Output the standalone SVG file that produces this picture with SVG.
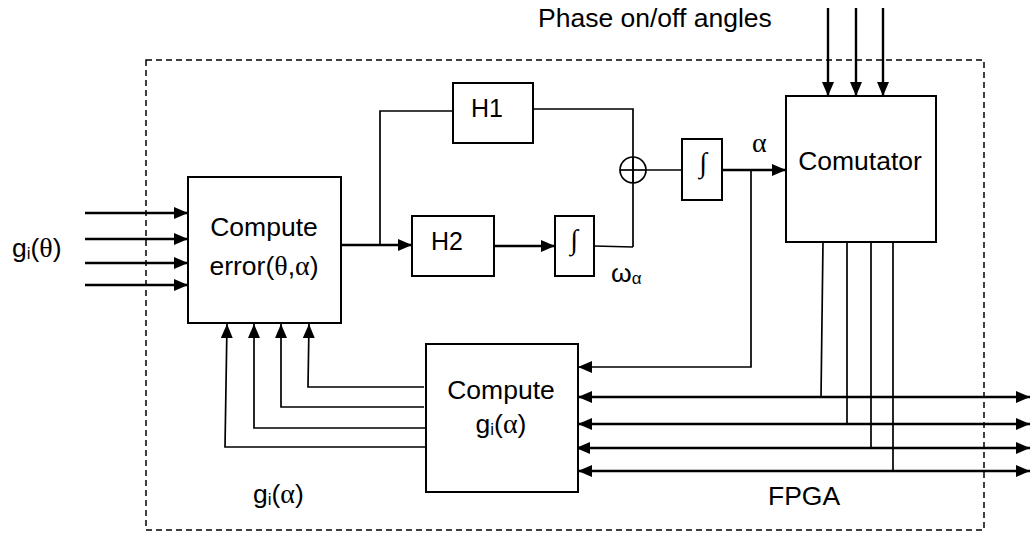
<svg xmlns="http://www.w3.org/2000/svg" width="1032" height="533" viewBox="0 0 1032 533">
<style>
.box{fill:#fff;stroke:#000;stroke-width:2}
.ln{fill:none;stroke:#000;stroke-width:2.4}
.lt{fill:none;stroke:#000;stroke-width:1.7}
.t{font-family:"Liberation Sans",Arial,sans-serif;font-size:26.5px;fill:#000}
.g{font-family:"Liberation Serif","Times New Roman",serif;font-size:28px}
.sub{font-size:17px}
.int{font-family:"Liberation Serif","DejaVu Serif",serif;font-size:28px;fill:#000}
</style>
<defs>
<marker id="ah" viewBox="0 0 14 12" refX="14" refY="6" markerWidth="14" markerHeight="12" markerUnits="userSpaceOnUse" orient="auto-start-reverse">
<path d="M0,0 L14,6 L0,12 Z" fill="#000"/>
</marker>
</defs>
<rect id="fpga" x="146" y="60" width="838" height="470" fill="none" stroke="#000" stroke-width="1.5" stroke-dasharray="6,4"/>
<g id="connectors">
<line class="ln" x1="85" y1="213" x2="188" y2="213" marker-end="url(#ah)"/>
<line class="ln" x1="85" y1="239" x2="188" y2="239" marker-end="url(#ah)"/>
<line class="ln" x1="85" y1="263" x2="188" y2="263" marker-end="url(#ah)"/>
<line class="ln" x1="85" y1="285" x2="188" y2="285" marker-end="url(#ah)"/>
<line class="ln" x1="341" y1="245" x2="412" y2="245" marker-end="url(#ah)"/>
<polyline class="lt" points="380,245 380,111 453,111"/>
<polyline class="lt" points="533,109 633,109 633,247"/>
<line class="lt" x1="594" y1="246" x2="633" y2="247"/>
<line class="ln" x1="494" y1="246" x2="555" y2="246" marker-end="url(#ah)"/>
<line class="lt" x1="646" y1="170" x2="682" y2="170"/>
<line class="ln" x1="722" y1="170" x2="786" y2="170" marker-end="url(#ah)"/>
<polyline class="lt" points="751,170 751,367 578,367" marker-end="url(#ah)"/>
<line class="ln" x1="828" y1="8" x2="828" y2="96" marker-end="url(#ah)"/>
<line class="ln" x1="856" y1="8" x2="856" y2="96" marker-end="url(#ah)"/>
<line class="ln" x1="883" y1="8" x2="883" y2="96" marker-end="url(#ah)"/>
<line class="lt" x1="823" y1="242" x2="821" y2="397"/>
<line class="lt" x1="847" y1="242" x2="847" y2="424"/>
<line class="lt" x1="871" y1="242" x2="871" y2="448"/>
<line class="lt" x1="893" y1="242" x2="893" y2="471"/>
<line class="ln" x1="578" y1="397" x2="1030" y2="397" marker-start="url(#ah)" marker-end="url(#ah)"/>
<line class="ln" x1="578" y1="424" x2="1030" y2="424" marker-start="url(#ah)" marker-end="url(#ah)"/>
<line class="ln" x1="576" y1="448" x2="1030" y2="448" marker-start="url(#ah)" marker-end="url(#ah)"/>
<line class="ln" x1="578" y1="471" x2="1030" y2="471" marker-start="url(#ah)" marker-end="url(#ah)"/>
<polyline class="lt" points="424,387 308,387 309,324" marker-end="url(#ah)"/>
<polyline class="lt" points="424,407 281,407 281,324" marker-end="url(#ah)"/>
<polyline class="lt" points="426,428 254,428 254,324" marker-end="url(#ah)"/>
<polyline class="lt" points="426,447 225,447 227,324" marker-end="url(#ah)"/>
</g>
<g id="sum">
<circle cx="633" cy="170" r="13" fill="none" stroke="#000" stroke-width="1.7"/>
<line class="lt" x1="620" y1="170" x2="646" y2="170"/>
<line class="lt" x1="633" y1="157" x2="633" y2="183"/>
</g>
<g id="compute-error">
<rect class="box" x="188" y="177" width="153" height="146"/>
<text class="t" x="264" y="236" text-anchor="middle">Compute</text>
<text class="t" x="264" y="275" text-anchor="middle">error(<tspan class="g">θ</tspan>,<tspan class="g">α</tspan>)</text>
</g>
<g id="h1">
<rect class="box" x="453" y="83" width="80" height="60"/>
<text class="t" x="487" y="117" text-anchor="middle" style="font-size:25px">H1</text>
</g>
<g id="h2">
<rect class="box" x="412" y="216" width="82" height="60"/>
<text class="t" x="447" y="250" text-anchor="middle" style="font-size:25px">H2</text>
</g>
<g id="int1">
<rect class="box" x="555" y="216" width="39" height="60"/>
<text class="int" x="574" y="249" text-anchor="middle">∫</text>
</g>
<g id="int2">
<rect class="box" x="682" y="139" width="40" height="61"/>
<text class="int" x="703" y="172" text-anchor="middle">∫</text>
</g>
<g id="comutator">
<rect class="box" x="786" y="96" width="150" height="146"/>
<text class="t" x="860" y="170" text-anchor="middle">Comutator</text>
</g>
<g id="compute-g">
<rect class="box" x="426" y="344" width="152" height="148"/>
<text class="t" x="501" y="399" text-anchor="middle">Compute</text>
<text class="t" x="501" y="433" text-anchor="middle">g<tspan class="sub" dy="2">i</tspan><tspan dy="-2">(</tspan><tspan class="g">α</tspan>)</text>
</g>
<g id="labels">
<text class="t" x="538" y="27">Phase on/off angles</text>
<text class="t" x="12" y="257">g<tspan class="sub" dy="2">i</tspan><tspan dy="-2">(</tspan><tspan class="g">θ</tspan>)</text>
<text class="t" x="253" y="503">g<tspan class="sub" dy="2">i</tspan><tspan dy="-2">(</tspan><tspan class="g">α</tspan>)</text>
<text class="t" x="611" y="282">ω<tspan class="sub" dy="2">α</tspan></text>
<text class="t g" x="752" y="152">α</text>
<text class="t" x="768" y="505">FPGA</text>
</g>
</svg>
